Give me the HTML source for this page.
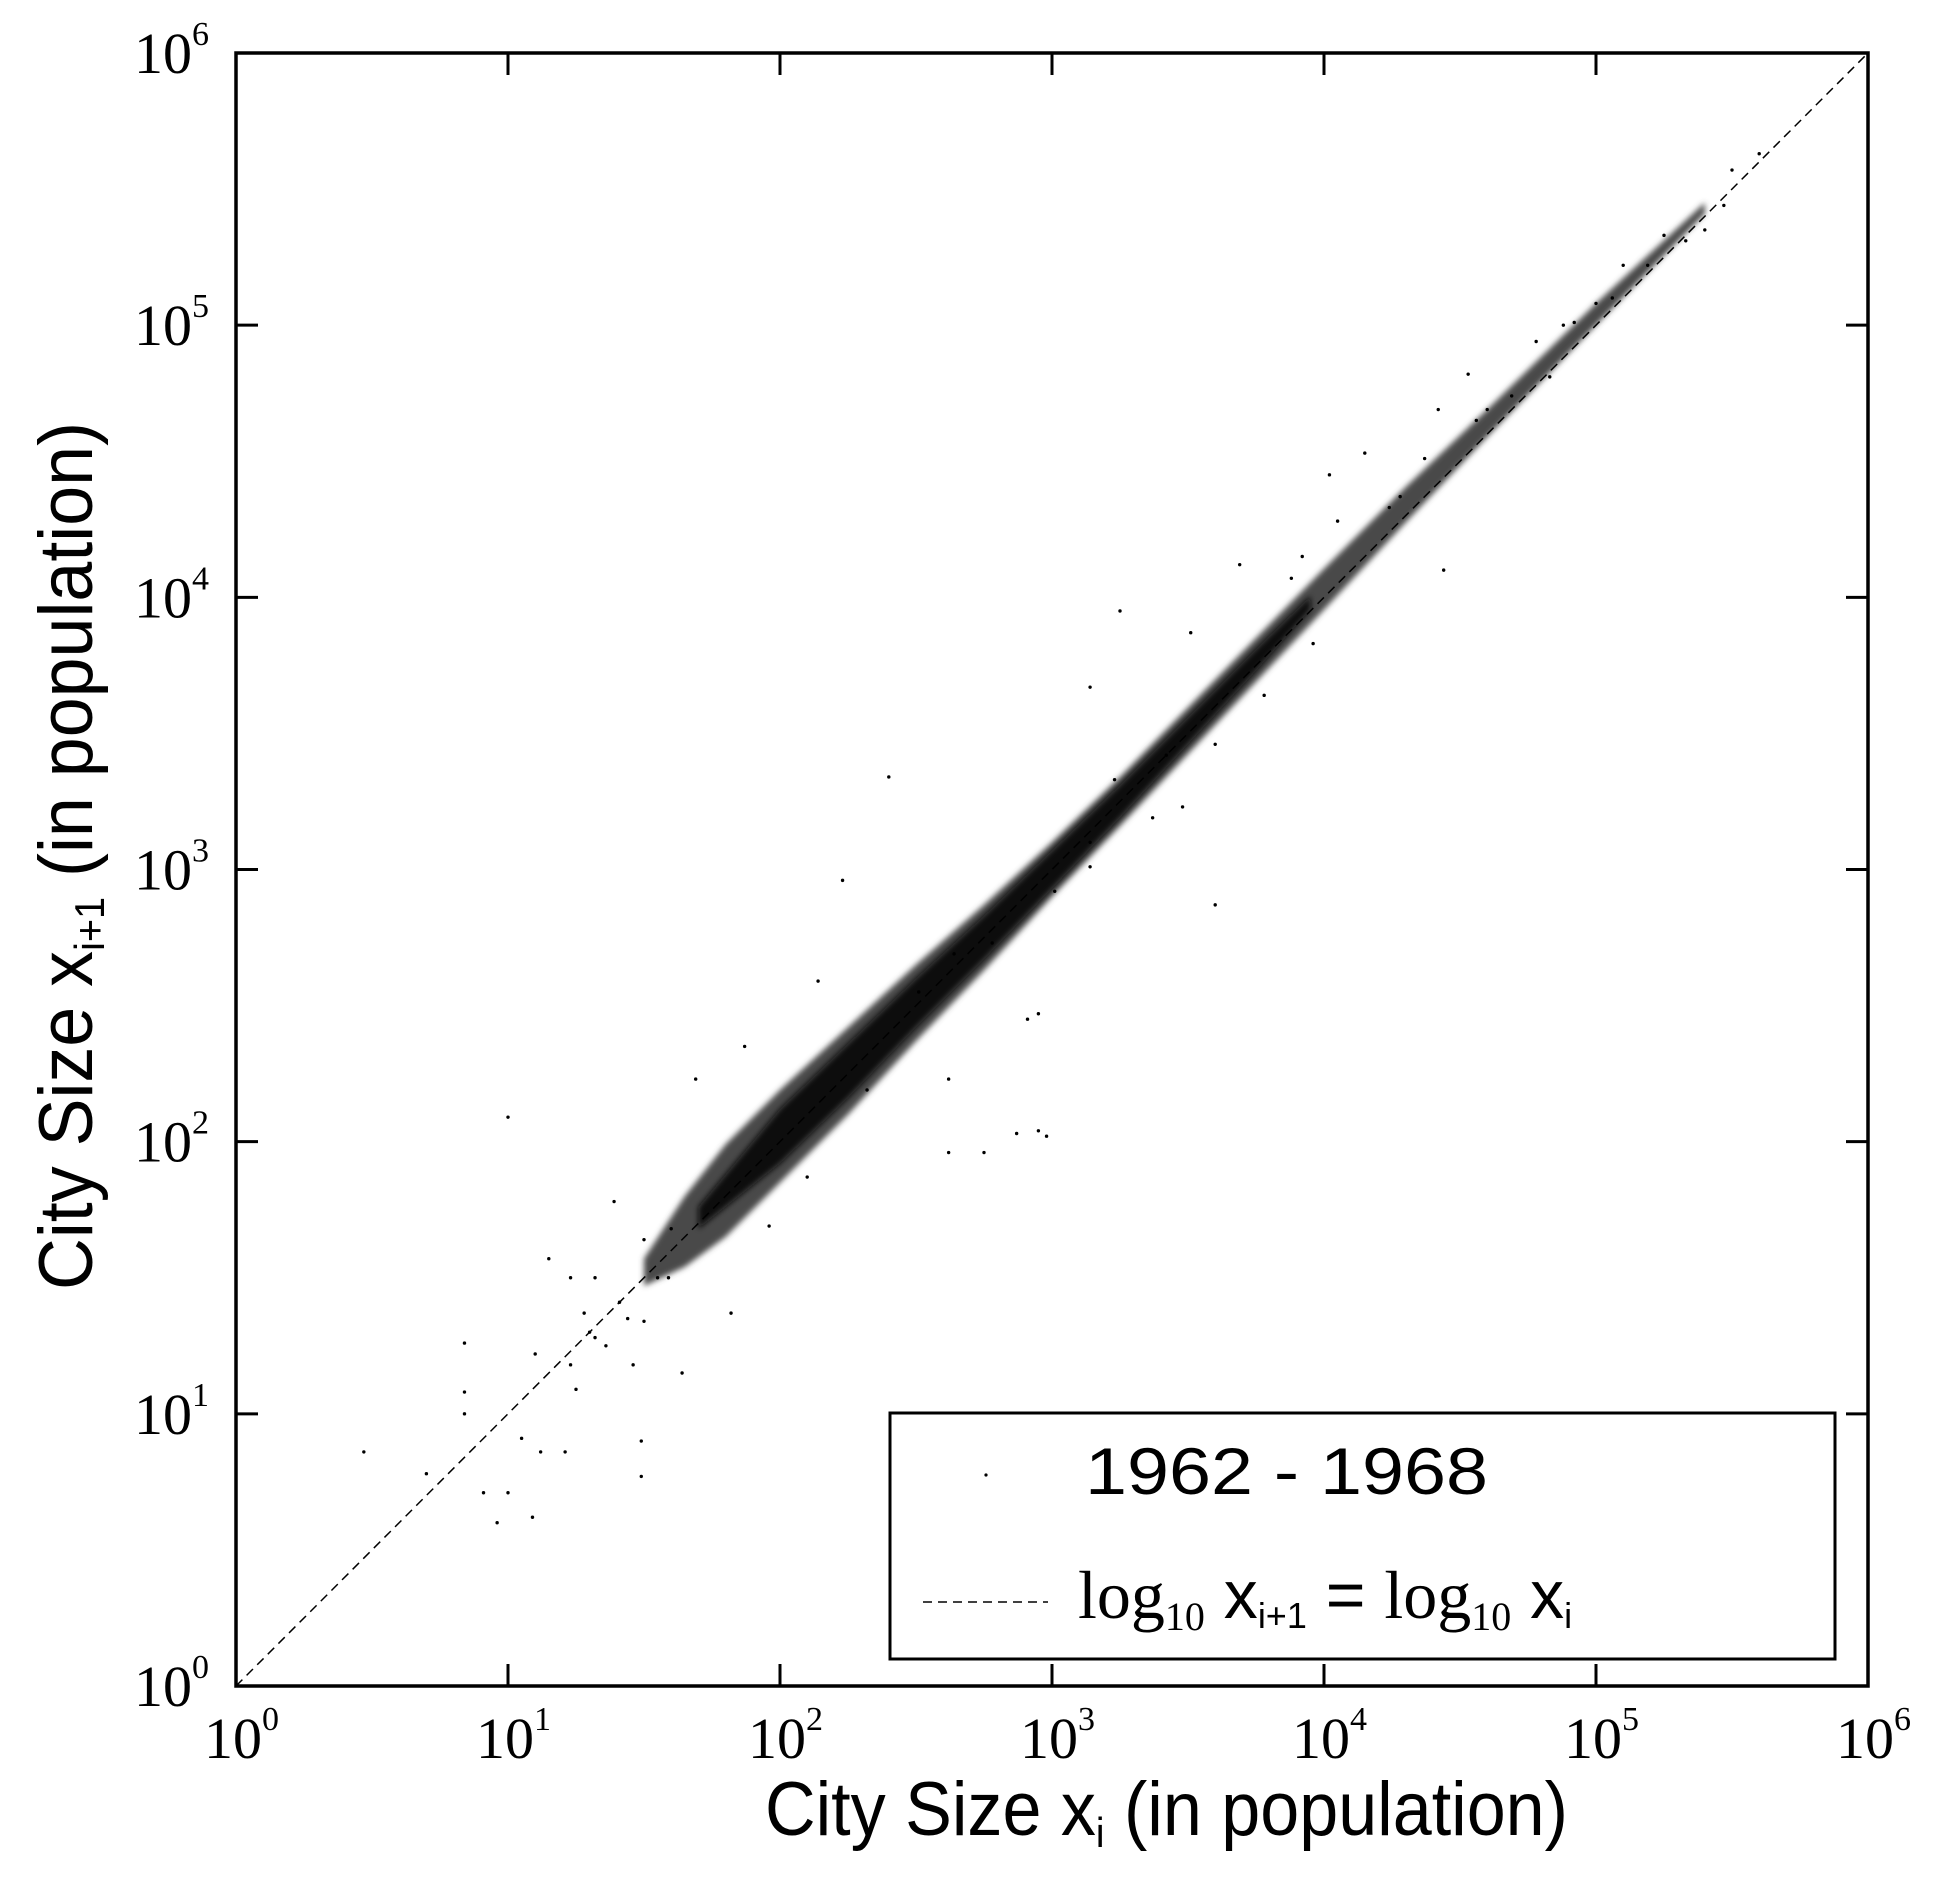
<!DOCTYPE html>
<html><head><meta charset="utf-8"><style>
html,body{margin:0;padding:0;background:#fff;}
svg{display:block;}
</style></head><body>
<svg id="chart" width="1944" height="1890" viewBox="0 0 1944 1890" xmlns="http://www.w3.org/2000/svg">
<defs><filter id="soft" x="-5%" y="-5%" width="110%" height="110%"><feGaussianBlur stdDeviation="3"/></filter></defs>
<g id="marks"></g>
<g id="axes"></g>
<text x="765" y="1835" font-family="Liberation Sans, sans-serif" font-size="76" textLength="803" lengthAdjust="spacingAndGlyphs">City Size x<tspan font-size="42" dy="12">i</tspan><tspan dy="-12"> (in population)</tspan></text>
<text transform="translate(92,1290) rotate(-90)" x="0" y="0" font-family="Liberation Sans, sans-serif" font-size="76" textLength="868" lengthAdjust="spacingAndGlyphs">City Size x<tspan font-size="42" dy="12">i+1</tspan><tspan dy="-12"> (in population)</tspan></text>
<g>
<rect x="890" y="1413" width="945" height="246" fill="#fff" stroke="#000" stroke-width="3"/>
<circle cx="986" cy="1475" r="1.6" fill="#000"/>
<text x="1085" y="1494" font-family="Liberation Sans, sans-serif" font-size="66" textLength="403" lengthAdjust="spacingAndGlyphs">1962 - 1968</text>
<line x1="923" y1="1602" x2="1048" y2="1602" stroke="#000" stroke-width="1.5" stroke-dasharray="9,6"/>
<text x="1078" y="1618" font-size="68"><tspan font-family="Liberation Serif, serif">log</tspan><tspan font-family="Liberation Serif, serif" font-size="40" dy="12">10</tspan><tspan font-family="Liberation Sans, sans-serif" dy="-12"> x</tspan><tspan font-family="Liberation Sans, sans-serif" font-size="36" dy="10">i+1</tspan><tspan font-family="Liberation Sans, sans-serif" dy="-10"> = </tspan><tspan font-family="Liberation Serif, serif">log</tspan><tspan font-family="Liberation Serif, serif" font-size="40" dy="12">10</tspan><tspan font-family="Liberation Sans, sans-serif" dy="-12"> x</tspan><tspan font-family="Liberation Sans, sans-serif" font-size="36" dy="10">i</tspan></text>
</g>
</svg>
<script>
// data (log10 values)
const xTicks = [0,1,2,3,4,5,6];
const yTicks = [0,1,2,3,4,5,6];
const tickExp = ['0','1','2','3','4','5','6'];
const bandX = [1.5,1.65,1.8,2.0,2.25,2.5,2.75,3.0,3.25,3.5,3.75,4.0,4.3,4.6,5.0,5.4];
const bandCenter = [0.02,0.02,0.02,0.02,0.01,0.01,0.0,0.0,0.0,0.01,0.02,0.03,0.04,0.04,0.04,0.03];
const bandHalf = [0.05,0.13,0.17,0.17,0.16,0.14,0.12,0.10,0.09,0.085,0.08,0.075,0.065,0.05,0.04,0.02];
const coreX = [1.7,2.0,2.25,2.5,2.75,3.0,3.25,3.5,3.75,3.95];
const coreCenter = [0.02,0.02,0.01,0.01,0.0,0.0,0.0,0.01,0.02,0.03];
const coreHalf = [0.04,0.1,0.1,0.09,0.08,0.07,0.06,0.05,0.04,0.025];
const ptX = [0.47,0.84,0.84,1.0,0.84,0.91,0.96,1.0,1.09,1.12,1.21,1.05,1.15,1.23,1.39,1.49,1.49,1.64,2.14,2.23,2.40,2.62,2.62,2.75,2.87,2.95,2.98,2.91,2.95,3.14,3.25,3.60,4.02,4.15,3.88,4.44,4.53,4.83,5.10,5.19,5.40,5.50,5.47,5.33,4.78,4.60,4.42,4.28,4.05,3.69,3.51,3.48,3.23,3.14,3.42,1.87,1.69,1.50,1.46,1.41,1.32,1.28,1.23,1.25,1.32,1.50,1.59,1.82,1.96,2.10,2.32,2.51,2.64,2.78,3.01,3.14,3.37,3.60,3.78,3.96,3.92,4.24,4.37,4.56,4.69,4.92,5.06,0.70,1.10,1.30,1.36,1.44,1.55,1.60,5.25,5.60,5.00,4.88];
const ptY = [0.86,1.26,1.08,2.09,1.00,0.71,0.60,0.71,0.62,0.86,0.86,0.91,1.57,1.50,1.78,0.90,0.77,1.15,2.59,2.96,3.34,2.23,1.96,1.96,2.03,2.04,2.02,2.45,2.47,3.67,3.95,2.87,4.45,4.53,4.07,4.10,4.82,4.81,5.22,5.22,5.35,5.57,5.44,5.31,4.94,4.69,4.69,4.37,4.28,4.12,3.87,3.23,3.33,3.01,3.42,2.35,2.23,1.34,1.18,1.41,1.28,1.37,1.18,1.09,1.50,1.64,1.50,1.37,1.69,1.87,2.19,2.55,2.69,2.73,2.92,3.10,3.19,3.46,3.64,3.83,4.15,4.33,4.51,4.65,4.74,5.01,5.10,0.78,1.22,1.30,1.25,1.35,1.50,1.68,5.33,5.63,5.08,5.00];

const L=236,R=1868,T=53,B=1686;
const sx=v=>L+(R-L)*v/6, sy=v=>B-(B-T)*v/6;
const NS='http://www.w3.org/2000/svg';
const marks=document.getElementById('marks'), axes=document.getElementById('axes');
function mk(tag,attrs,parent){const e=document.createElementNS(NS,tag);for(const k in attrs)e.setAttribute(k,attrs[k]);parent.appendChild(e);return e;}

function bandPath(xs,cs,hs){
  const up=xs.map((x,i)=>sx(x)+','+sy(x+cs[i]+hs[i]));
  const lo=xs.map((x,i)=>sx(x)+','+sy(x+cs[i]-hs[i])).reverse();
  return 'M'+up.join(' L')+' L'+lo.join(' L')+' Z';
}
const band=mk('path',{d:bandPath(bandX,bandCenter,bandHalf),fill:'#4a4a4a',filter:'url(#soft)'},marks);


const core=mk('path',{d:bandPath(coreX,coreCenter,coreHalf),fill:'#0a0a0a',filter:'url(#soft)'},marks);


ptX.forEach((x,i)=>{
  const c=mk('circle',{cx:sx(x),cy:sy(ptY[i]),r:1.7,fill:'#000'},marks);
  
  
});
const diag=mk('line',{x1:sx(0),y1:sy(0),x2:sx(6),y2:sy(6),stroke:'#000','stroke-width':1.5,'stroke-dasharray':'9,6'},marks);



const frame=mk('rect',{x:L,y:T,width:R-L,height:B-T,fill:'none',stroke:'#000','stroke-width':3.5},axes);


xTicks.forEach((v,i)=>{
  const x=sx(v);
  if(v>0&&v<6){
    const t1=mk('line',{x1:x,y1:B,x2:x,y2:B-22,stroke:'#000','stroke-width':3},axes);
    
    
    const t2=mk('line',{x1:x,y1:T,x2:x,y2:T+22,stroke:'#000','stroke-width':3},axes);
    
    
  }
  const lb=mk('text',{x:x-32,y:1758,'font-family':'Liberation Serif, serif','font-size':58},axes);
  
  
  lb.innerHTML='10<tspan font-size="34" dy="-28">'+tickExp[i]+'</tspan>';
});
yTicks.forEach((v,i)=>{
  const y=sy(v);
  if(v>0&&v<6){
    const t1=mk('line',{x1:L,y1:y,x2:L+22,y2:y,stroke:'#000','stroke-width':3},axes);
    
    
    const t2=mk('line',{x1:R,y1:y,x2:R-22,y2:y,stroke:'#000','stroke-width':3},axes);
    
    
  }
  const lb=mk('text',{x:134,y:y+20,'font-family':'Liberation Serif, serif','font-size':58},axes);
  
  
  lb.innerHTML='10<tspan font-size="34" dy="-28">'+tickExp[i]+'</tspan>';
});
</script>
</body></html>
